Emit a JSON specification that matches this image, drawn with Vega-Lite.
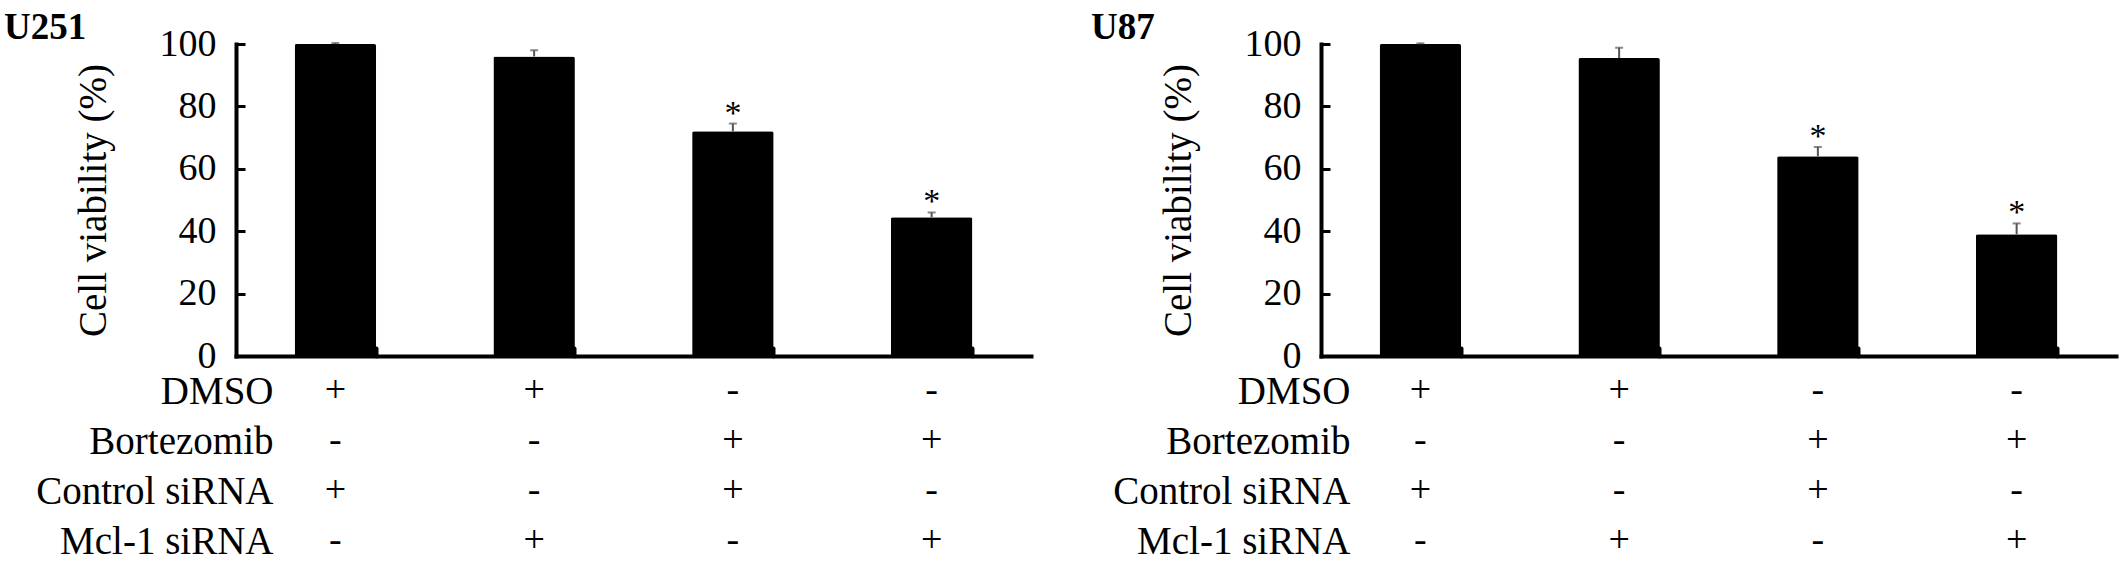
{
  "$schema": "https://vega.github.io/schema/vega-lite/v6.json",
  "padding": {"left": 4, "top": 9, "right": 11, "bottom": 1},
  "background": "white",
  "datasets": {
    "u251": [
      {"cond": "A", "value": 100, "upper": 100.3, "sig": ""},
      {"cond": "B", "value": 96, "upper": 98, "sig": ""},
      {"cond": "C", "value": 72, "upper": 74.5, "sig": "*"},
      {"cond": "D", "value": 44.5, "upper": 46, "sig": "*"}
    ],
    "u87": [
      {"cond": "A", "value": 100, "upper": 100.2, "sig": ""},
      {"cond": "B", "value": 95.5, "upper": 98.8, "sig": ""},
      {"cond": "C", "value": 64, "upper": 67, "sig": "*"},
      {"cond": "D", "value": 39, "upper": 42.5, "sig": "*"}
    ],
    "tbl": [
      {"cond": "A", "row": "DMSO", "sign": "+"},
      {"cond": "B", "row": "DMSO", "sign": "+"},
      {"cond": "C", "row": "DMSO", "sign": "-"},
      {"cond": "D", "row": "DMSO", "sign": "-"},
      {"cond": "A", "row": "Bortezomib", "sign": "-"},
      {"cond": "B", "row": "Bortezomib", "sign": "-"},
      {"cond": "C", "row": "Bortezomib", "sign": "+"},
      {"cond": "D", "row": "Bortezomib", "sign": "+"},
      {"cond": "A", "row": "Control siRNA", "sign": "+"},
      {"cond": "B", "row": "Control siRNA", "sign": "-"},
      {"cond": "C", "row": "Control siRNA", "sign": "+"},
      {"cond": "D", "row": "Control siRNA", "sign": "-"},
      {"cond": "A", "row": "Mcl-1 siRNA", "sign": "-"},
      {"cond": "B", "row": "Mcl-1 siRNA", "sign": "+"},
      {"cond": "C", "row": "Mcl-1 siRNA", "sign": "-"},
      {"cond": "D", "row": "Mcl-1 siRNA", "sign": "+"}
    ]
  },
  "columns": 2,
  "concat": [
    {
      "width": 795,
      "height": 312,
      "title": {"text": "U251", "anchor": "start", "frame": "group", "dx": -232, "offset": -60, "baseline": "alphabetic", "fontSize": 37, "font": "Liberation Serif", "fontWeight": "bold", "color": "black"},
      "data": {"name": "u251"},
      "encoding": {
        "x": {"field": "cond", "type": "nominal", "scale": {"paddingInner": 0.59, "paddingOuter": 0.295},
          "axis": {"title": null, "labels": false, "ticks": true, "tickSize": -8, "tickWidth": 4, "bandPosition": 1, "domainWidth": 4, "domainCap": "square", "tickCap": "round"}}
      },
      "layer": [
        {"mark": {"type": "bar", "color": "black", "cornerRadius": 2},
         "encoding": {"y": {"field": "value", "type": "quantitative", "scale": {"domain": [0, 100]},
           "axis": {"values": [0, 20, 40, 60, 80, 100], "tickSize": -9, "tickWidth": 3, "domainWidth": 4, "domainCap": "square", "labelPadding": 29, "labelFontSize": 38, "title": "Cell viability (%)", "titleFontSize": 39, "titleFontWeight": "normal", "titlePadding": 46}}}},
        {"mark": {"type": "rule", "color": "#555", "strokeWidth": 2},
         "encoding": {"y": {"field": "value", "type": "quantitative"}, "y2": {"field": "upper"}}},
        {"mark": {"type": "tick", "color": "#555", "thickness": 2, "size": 8},
         "encoding": {"y": {"field": "upper", "type": "quantitative"}}},
        {"mark": {"type": "text", "font": "Liberation Serif", "fontSize": 34, "baseline": "alphabetic", "color": "black"},
         "encoding": {"y": {"field": "upper", "type": "quantitative"}, "text": {"field": "sig"}}}
      ]
    },
    {
      "width": 795,
      "height": 312,
      "title": {"text": "U87", "anchor": "start", "frame": "group", "dx": -230, "offset": -60, "baseline": "alphabetic", "fontSize": 37, "font": "Liberation Serif", "fontWeight": "bold", "color": "black"},
      "data": {"name": "u87"},
      "encoding": {
        "x": {"field": "cond", "type": "nominal", "scale": {"paddingInner": 0.59, "paddingOuter": 0.295},
          "axis": {"title": null, "labels": false, "ticks": true, "tickSize": -8, "tickWidth": 4, "bandPosition": 1, "domainWidth": 4, "domainCap": "square", "tickCap": "round"}}
      },
      "layer": [
        {"mark": {"type": "bar", "color": "black", "cornerRadius": 2},
         "encoding": {"y": {"field": "value", "type": "quantitative", "scale": {"domain": [0, 100]},
           "axis": {"values": [0, 20, 40, 60, 80, 100], "tickSize": -9, "tickWidth": 3, "domainWidth": 4, "domainCap": "square", "labelPadding": 29, "labelFontSize": 38, "title": "Cell viability (%)", "titleFontSize": 39, "titleFontWeight": "normal", "titlePadding": 46}}}},
        {"mark": {"type": "rule", "color": "#555", "strokeWidth": 2},
         "encoding": {"y": {"field": "value", "type": "quantitative"}, "y2": {"field": "upper"}}},
        {"mark": {"type": "tick", "color": "#555", "thickness": 2, "size": 8},
         "encoding": {"y": {"field": "upper", "type": "quantitative"}}},
        {"mark": {"type": "text", "font": "Liberation Serif", "fontSize": 34, "baseline": "alphabetic", "color": "black"},
         "encoding": {"y": {"field": "upper", "type": "quantitative"}, "text": {"field": "sig"}}}
      ]
    },
    {
      "width": 795,
      "height": {"step": 50},
      "data": {"name": "tbl"},
      "mark": {"type": "text", "font": "Liberation Serif", "fontSize": 38, "color": "black"},
      "encoding": {
        "x": {"field": "cond", "type": "nominal", "scale": {"paddingInner": 0.59, "paddingOuter": 0.295}, "axis": null},
        "y": {"field": "row", "type": "nominal", "sort": ["DMSO", "Bortezomib", "Control siRNA", "Mcl-1 siRNA"],
          "axis": {"title": null, "domain": false, "ticks": false, "labelPadding": -37, "labelFontSize": 39, "labelLimit": 0}},
        "text": {"field": "sign"}
      }
    },
    {
      "width": 795,
      "height": {"step": 50},
      "data": {"name": "tbl"},
      "mark": {"type": "text", "font": "Liberation Serif", "fontSize": 38, "color": "black"},
      "encoding": {
        "x": {"field": "cond", "type": "nominal", "scale": {"paddingInner": 0.59, "paddingOuter": 0.295}, "axis": null},
        "y": {"field": "row", "type": "nominal", "sort": ["DMSO", "Bortezomib", "Control siRNA", "Mcl-1 siRNA"],
          "axis": {"title": null, "domain": false, "ticks": false, "labelPadding": -29, "labelFontSize": 39, "labelLimit": 0}},
        "text": {"field": "sign"}
      }
    }
  ],
  "spacing": {"row": 10, "column": 290},
  "bounds": "flush",
  "resolve": {"scale": {"x": "independent", "y": "independent"}},
  "config": {
    "view": {"stroke": null},
    "axis": {"grid": false, "domainColor": "black", "tickColor": "black", "labelColor": "black", "titleColor": "black", "labelFont": "Liberation Serif", "titleFont": "Liberation Serif"}
  }
}
